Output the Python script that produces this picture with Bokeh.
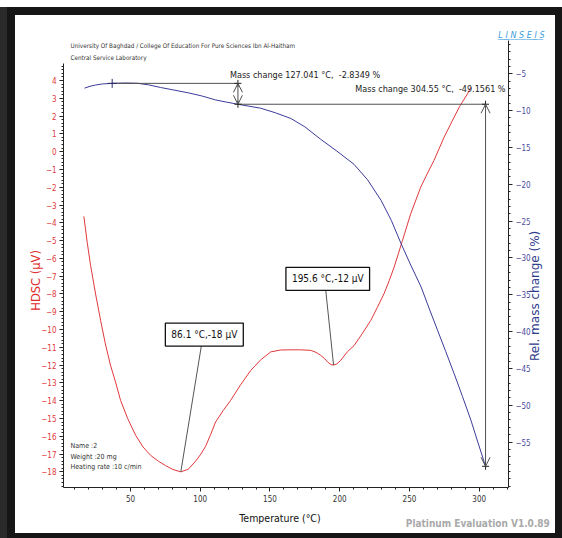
import math
from bokeh.plotting import figure
from bokeh.models import Range1d, LinearAxis, FixedTicker, Label, Arrow, OpenHead, Title
from bokeh.embed import file_html
from bokeh.resources import INLINE

# ---- DSC trace: heat flow signal (µV) against temperature (°C) ----
dsc_temp = [16.6, 19.0, 21.4, 25.0, 28.6, 32.0, 35.7, 39.5, 42.9, 48.0, 53.7, 59.0, 64.4,
            70.0, 75.2, 80.5, 86.1, 91.5, 96.7, 100.5, 103.9, 107.5, 111.0, 116.5, 121.8,
            129.0, 136.2, 143.4, 150.5, 157.5, 164.9, 172.0, 179.2, 183.0, 186.4, 189.0,
            191.5, 193.8, 195.6, 198.0, 200.5, 205.5, 210.3, 216.0, 222.3, 227.0, 231.8,
            235.5, 239.0, 242.0, 245.0, 250.9, 258.1, 263.0, 267.6, 274.8, 282.0, 286.0,
            291.6, 294.0]
dsc_uv = [-3.64, -5.1, -6.39, -8.0, -9.48, -10.8, -12.01, -13.0, -13.98, -15.0, -15.94,
          -16.6, -17.07, -17.4, -17.65, -17.87, -18.0, -17.85, -17.4, -17.0, -16.56, -15.9,
          -15.2, -14.55, -13.98, -13.1, -12.3, -11.7, -11.26, -11.15, -11.14, -11.14,
          -11.17, -11.28, -11.45, -11.62, -11.84, -11.97, -12.0, -11.93, -11.75, -11.25,
          -10.9, -10.25, -9.48, -8.75, -7.98, -7.25, -6.49, -5.75, -4.99, -3.49, -1.99,
          -1.2, -0.49, 0.81, 1.94, 2.55, 3.25, 3.62]

# ---- TG trace: relative mass change (%) against temperature (°C) ----
tg_temp = [17.1, 21.0, 25.0, 30.0, 36.9, 46.5, 55.1, 63.0, 71.6, 81.0, 91.8, 101.0, 111.0,
           119.0, 127.041, 135.0, 143.3, 154.0, 165.0, 175.0, 186.4, 198.0, 210.3, 220.0,
           229.7, 237.0, 244.1, 251.0, 258.4, 264.0, 270.1, 276.0, 282.0, 288.0, 294.0,
           299.0, 304.55]
tg_mass = [-6.95, -6.70, -6.52, -6.38, -6.30, -6.25, -6.29, -6.50, -6.86, -7.20, -7.60,
           -8.00, -8.55, -8.85, -9.1349, -9.40, -9.67, -10.30, -11.07, -12.20, -13.90,
           -15.50, -17.30, -19.40, -22.20, -24.90, -28.10, -31.00, -33.96, -36.80, -39.80,
           -42.70, -45.70, -48.80, -52.00, -55.00, -58.291]

# DSC peak readouts
peak_temp = [86.1, 195.6]
peak_uv = [-18, -12]
peak_text = ["86.1 °C,-18 µV", "195.6 °C,-12 µV"]

# Mass change evaluation: reference start, then two evaluation temperatures
step_temp = [36.9, 127.041, 304.55]
step_mass = [-6.30, -9.1349, -58.291]
step_text = ["Mass change 127.041 °C,\u00a0 -2.8349 %",
             "Mass change 304.55 °C,\u00a0 -49.1561 %"]

# Axis ticks
x_ticks = [50, 100, 150, 200, 250, 300]
x_minor = list(range(10, 321, 10))
dsc_ticks = list(range(-18, 5))
dsc_minor = [round(-18.8 + 0.2 * i, 1) for i in range(119)]
tg_ticks = list(range(-55, 0, 5))
tg_minor = list(range(-61, 0))

NARROW = "'Liberation Sans Narrow', 'DejaVu Sans Condensed', 'Liberation Sans', sans-serif"
WIDE = "'DejaVu Sans', Verdana, sans-serif"
RED = "#e0393c"
BLUE = "#3b3b98"
NBSP = "\u00a0"

p = figure(width=540, height=518, x_range=Range1d(2, 321), y_range=Range1d(-18.88, 6.25),
           output_backend="svg", toolbar_location=None,
           min_border_left=48, min_border_right=47, min_border_top=25, min_border_bottom=46)
p.extra_y_ranges = {"mass": Range1d(-61.17, -0.48)}
p.outline_line_color = None
p.grid.visible = False
p.background_fill_color = "white"
p.border_fill_color = "white"
# dark instrument-report frame drawn around the canvas
p.styles = {"margin": "15px 0px 0px 15px",
            "box-shadow": "0px 0px 0px 8px #161616, -8px 0px 0px 8px #2a2a2a"}


def style_axis(ax, color):
    ax.axis_line_color = "#222222"
    ax.major_tick_line_color = "#222222"
    ax.minor_tick_line_color = "#222222"
    ax.major_tick_out = 4
    ax.major_tick_in = 0
    ax.minor_tick_out = 2
    ax.minor_tick_in = 0
    ax.major_label_text_font = NARROW
    ax.major_label_text_font_size = "8px"
    ax.major_label_text_color = color
    ax.major_label_standoff = 3


def caption_axis(ax, font, size, color, standoff, style="normal"):
    # an axis that only carries a single text as its tick label
    ax.axis_line_color = None
    ax.major_tick_line_color = None
    ax.minor_tick_line_color = None
    ax.major_tick_out = 0
    ax.major_tick_in = 0
    ax.minor_tick_out = 0
    ax.minor_tick_in = 0
    ax.major_label_text_font = font
    ax.major_label_text_font_size = size
    ax.major_label_text_font_style = style
    ax.major_label_text_color = color
    ax.major_label_standoff = standoff


xa = p.xaxis[0]
xa.ticker = FixedTicker(ticks=x_ticks, minor_ticks=x_minor)
style_axis(xa, "#333333")
xa.axis_label = "Temperature (°C)" + NBSP * 4
xa.axis_label_text_font = NARROW
xa.axis_label_text_font_size = "10.5px"
xa.axis_label_text_font_style = "normal"
xa.axis_label_text_color = "#111111"
xa.axis_label_standoff = 7

ya = p.yaxis[0]
ya.ticker = FixedTicker(ticks=dsc_ticks, minor_ticks=dsc_minor)
ya.bounds = (-18.88, 4.98)
style_axis(ya, RED)
ya.axis_label = "HDSC (µV)" + NBSP * 9
ya.axis_label_text_font = WIDE
ya.axis_label_text_font_size = "11.5px"
ya.axis_label_text_font_style = "normal"
ya.axis_label_text_color = "#e02a2a"
ya.axis_label_standoff = -5

ra = LinearAxis(y_range_name="mass", ticker=FixedTicker(ticks=tg_ticks, minor_ticks=tg_minor))
style_axis(ra, "#4b4b9e")
p.add_layout(ra, "right")

# Right-hand title, written upwards next to the mass scale
ra_title = LinearAxis(y_range_name="mass", ticker=FixedTicker(ticks=[-44], minor_ticks=[]),
                      major_label_overrides={-44: "Rel. mass change (%)"})
caption_axis(ra_title, WIDE, "12px", "#2e3b8c", 2)
ra_title.major_label_orientation = math.pi / 2
p.add_layout(ra_title, "right")

# Software footer on the bottom row
xa_footer = LinearAxis(ticker=FixedTicker(ticks=[299], minor_ticks=[]),
                       major_label_overrides={299: "Platinum Evaluation V1.0.89"})
caption_axis(xa_footer, NARROW, "10px", "#a9a9a9", -9, "bold")
p.add_layout(xa_footer, "below")

# Instrument maker's logo, spaced and underlined
logo = "\u2004\u0332".join(ch + "\u0332" for ch in "LINSEIS")
p.add_layout(Title(text=logo, align="right", offset=-36, standoff=1,
                   text_font=WIDE, text_font_style="italic", text_font_size="8px",
                   text_color="#3b9be0"), "above")

# Curves
p.line(dsc_temp, dsc_uv, line_color=RED, line_width=1)
p.line(tg_temp, tg_mass, line_color=BLUE, line_width=1, y_range_name="mass")

# Mass change evaluation construction
GREY = "#505050"
p.segment(x0=[step_temp[0], step_temp[1]], y0=[step_mass[0], step_mass[1]],
          x1=[step_temp[1], step_temp[2]], y1=[step_mass[0], step_mass[1]],
          line_color=GREY, line_width=1, y_range_name="mass")
for i in (1, 2):
    p.add_layout(Arrow(x_start=step_temp[i], y_start=step_mass[i - 1],
                       x_end=step_temp[i], y_end=step_mass[i],
                       start=OpenHead(size=9, line_color=GREY, line_width=1),
                       end=OpenHead(size=9, line_color=GREY, line_width=1),
                       line_color=GREY, line_width=1, y_range_name="mass"))
p.scatter([step_temp[0]], [step_mass[0]], marker="cross", size=9, line_color="#2a2a6a",
          y_range_name="mass")
p.scatter([step_temp[1], step_temp[1], step_temp[2], step_temp[2]],
          [step_mass[0], step_mass[1], step_mass[1], step_mass[2]],
          marker="cross", size=7, line_color="#222222", y_range_name="mass")

p.add_layout(Label(x=step_temp[1], y=step_mass[0], y_range_name="mass", text=step_text[0],
                   x_offset=-8, y_offset=8, text_font=NARROW, text_font_size="9px",
                   text_color="#222222", text_baseline="middle", text_align="left"))
p.add_layout(Label(x=step_temp[2], y=step_mass[1], y_range_name="mass", text=step_text[1],
                   x_offset=20, y_offset=15, text_font=NARROW, text_font_size="9px",
                   text_color="#222222", text_baseline="middle", text_align="right"))

# DSC peak callouts: leader line from the peak to a boxed readout
lead_dx = [14.7, -5.6]
lead_dy = [7.07, 4.2]
box_dx = [3, 2]
for t, v, s, dx, dy, bx in zip(peak_temp, peak_uv, peak_text, lead_dx, lead_dy, box_dx):
    p.segment(x0=[t], y0=[v], x1=[t + dx], y1=[v + dy], line_color="#555555", line_width=1)
    p.add_layout(Label(x=t + dx, y=v + dy, text=s, x_offset=bx, anchor="bottom_center",
                       text_align="center", text_baseline="middle",
                       text_font=NARROW, text_font_size="10px", text_color="#111111",
                       padding=6, background_fill_color="white",
                       border_line_color="#111111", border_line_width=1.3))

# Header and sample info texts
p.add_layout(Label(x=7, y=442, x_units="screen", y_units="screen",
                   text="University Of Baghdad / College Of Education For Pure Sciences Ibn Al-Haitham",
                   text_font=NARROW, text_font_size="6.3px", text_color="#333333",
                   text_baseline="middle"))
p.add_layout(Label(x=7, y=430, x_units="screen", y_units="screen",
                   text="Central Service Laboratory",
                   text_font=NARROW, text_font_size="6.3px", text_color="#333333",
                   text_baseline="middle"))
for yy, s in zip([42, 31, 21], ["Name :2", "Weight :20  mg", "Heating rate :10 c/min"]):
    p.add_layout(Label(x=7, y=yy, x_units="screen", y_units="screen", text=s,
                       text_font=NARROW, text_font_size="7px", text_color="#333333",
                       text_baseline="middle"))

open("out.html", "w").write(file_html(p, INLINE))
